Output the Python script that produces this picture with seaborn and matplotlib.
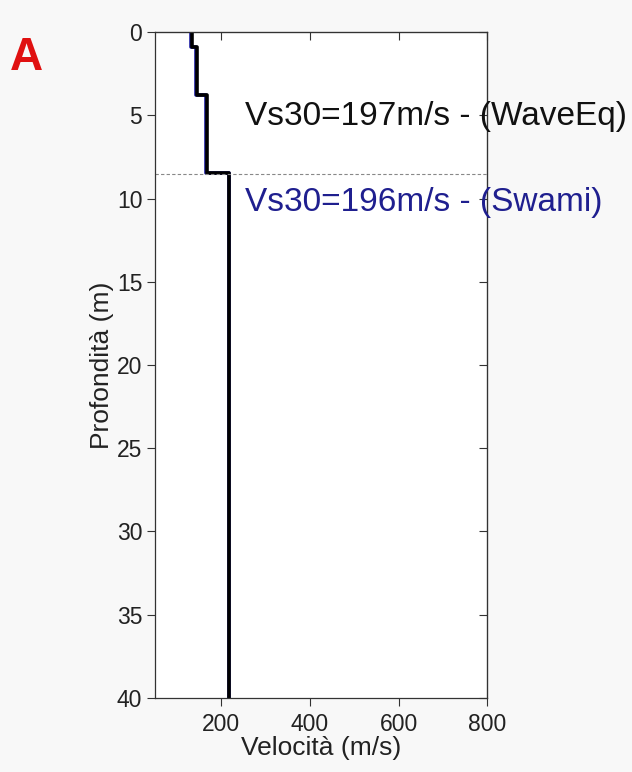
import matplotlib
matplotlib.use("Agg")
import matplotlib.pyplot as plt
import seaborn as sns
import pandas as pd

# data
depth_wave = [0, 0.9, 0.9, 3.8, 3.8, 8.45, 8.45, 40]
vel_wave = [133, 133, 144, 144, 167, 167, 218, 218]
depth_swami = [0, 0.9, 0.9, 3.8, 3.8, 8.45, 8.45, 40]
vel_swami = [131, 131, 142, 142, 165, 165, 217, 217]
x_ticks = [200, 400, 600, 800]
y_ticks = [0, 5, 10, 15, 20, 25, 30, 35, 40]
interface_depth = 8.5
label_wave = "Vs30=197m/s - (WaveEq)"
label_swami = "Vs30=196m/s - (Swami)"

sns.set_style("ticks")
plt.rcParams['font.family'] = ['Liberation Sans', 'DejaVu Sans']

fig = plt.figure(figsize=(6.32, 7.72), dpi=100)
fig.patch.set_facecolor("#f8f8f8")
ax = fig.add_axes([0.245, 0.096, 0.526, 0.8625])
ax.set_facecolor("white")

df_s = pd.DataFrame({"v": vel_swami, "d": depth_swami})
df_w = pd.DataFrame({"v": vel_wave, "d": depth_wave})
sns.lineplot(data=df_s, x="v", y="d", sort=False, estimator=None, ax=ax,
             color="#1a1aa0", linewidth=2.6)
sns.lineplot(data=df_w, x="v", y="d", sort=False, estimator=None, ax=ax,
             color="black", linewidth=2.6)
ax.axhline(interface_depth, color="#888888", linestyle=(0, (3, 2)), linewidth=0.8)

ax.set_xlim(50, 800)
ax.set_ylim(40, 0)
ax.set_xticks(x_ticks)
ax.set_yticks(y_ticks)
ax.tick_params(axis="both", labelsize=16.5, direction="out", length=6, width=0.8,
               colors="#333333", labelcolor="#222222", pad=3)
ax.tick_params(axis="x", pad=5)
for s in ax.spines.values():
    s.set_linewidth(0.9)
    s.set_color("#333333")

secx = ax.secondary_xaxis("top")
secx.set_xticks(x_ticks)
secx.tick_params(direction="in", length=6, width=0.8, labeltop=False, colors="#333333")
secy = ax.secondary_yaxis("right")
secy.set_yticks(y_ticks)
secy.tick_params(direction="in", length=6, width=0.8, labelright=False, colors="#333333")

ax.set_xlabel("Velocità (m/s)", fontsize=19, labelpad=0, color="#222222")
ax.set_ylabel("Profondità (m)", fontsize=19, labelpad=2, color="#222222")

fig.text(245 / 632, 1 - 117 / 772, label_wave, fontsize=24, color="#111111",
         va="center", ha="left")
fig.text(245 / 632, 1 - 203 / 772, label_swami, fontsize=24, color="#1f1f8f",
         va="center", ha="left")
fig.text(10 / 632, 1 - 58 / 772, "A", fontsize=33, color="#e01010",
         fontweight="heavy", va="center", ha="left")

fig.savefig("out.png", dpi=100, facecolor=fig.get_facecolor())
